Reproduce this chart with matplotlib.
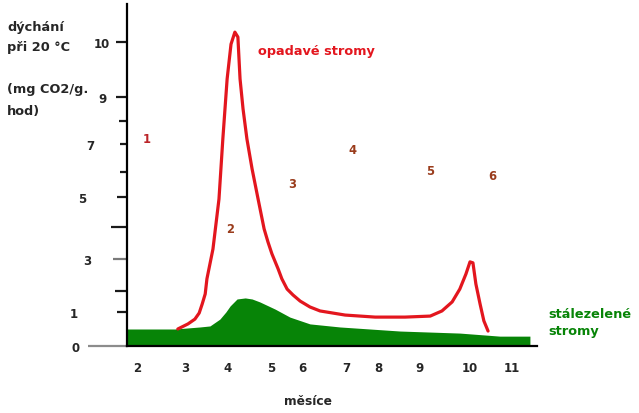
import numpy as np
import matplotlib
matplotlib.use("Agg")
import matplotlib.pyplot as plt

plt.rcParams["font.family"] = ["DejaVu Sans"]

# --- data: respiration at 20 °C (mg CO2 / g / h) through the year ---
months = [2, 3, 4, 5, 6, 7, 8, 9, 10, 11]
month_labels = ["2", "3", "4", "5", "6", "7", "8", "9", "10", "11"]

resp_ticks = [0, 1, 2, 3, 4, 5, 6, 7, 8, 9, 10]
resp_labels = ["0", "1", "", "3", "", "5", "", "7", "", "9", "10"]

deciduous_month = [2.85, 3.07, 3.23, 3.33, 3.40, 3.47, 3.51, 3.65, 3.79, 3.88,
                   3.98, 4.07, 4.16, 4.23, 4.28, 4.35, 4.44, 4.56, 4.63, 4.70,
                   4.84, 4.93, 5.03, 5.23, 5.35, 5.52, 5.71, 5.94, 6.18, 6.41,
                   6.98, 7.91, 8.66, 9.22, 9.45, 9.65, 9.80, 9.92, 10.0, 10.07,
                   10.14, 10.24, 10.33, 10.43]
deciduous_resp = [0.50, 0.65, 0.79, 0.97, 1.38, 1.86, 2.38, 3.31, 4.93, 7.22,
                  9.33, 9.96, 10.26, 10.13, 9.33, 8.50, 7.22, 6.11, 5.52, 4.93,
                  3.94, 3.53, 3.16, 2.69, 2.38, 2.06, 1.81, 1.52, 1.24, 1.05,
                  0.91, 0.85, 0.85, 0.88, 1.05, 1.48, 2.06, 2.53, 2.91, 2.88,
                  2.22, 1.38, 0.74, 0.44]

evergreen_month = [1.8, 2.79, 3.35, 3.58, 3.81, 3.95, 4.05, 4.21, 4.40, 4.56,
                   4.74, 5.13, 5.61, 6.18, 6.86, 8.54, 9.80, 10.71, 11.43]
evergreen_resp = [0.50, 0.50, 0.56, 0.59, 0.79, 1.00, 1.29, 1.62, 1.67, 1.62,
                  1.48, 1.14, 0.85, 0.65, 0.56, 0.44, 0.38, 0.29, 0.29]

stage_labels = ["1", "2", "3", "4", "5", "6"]
stage_month = [2.21, 4.05, 5.68, 7.19, 9.22, 10.52]
stage_resp = [7.26, 3.94, 5.52, 6.79, 6.04, 5.84]

# --- hand-drawn (uneven) axis scales: value -> position along the axis ---
x_nodes = [1.8, 2, 3, 4, 5, 6, 7, 8, 9, 10, 11, 11.6]
x_pos = [0, 10, 58, 101, 144, 175, 219, 251, 292, 343, 385, 410]
y_nodes = [0, 1, 2, 3, 4, 5, 6, 7, 8, 9, 10, 11]
y_pos = [0, 34, 55, 87, 119, 149, 174, 202, 225, 249, 304, 342]


def fwd_x(v):
    return np.interp(v, x_nodes, x_pos)


def inv_x(p):
    return np.interp(p, x_pos, x_nodes)


def fwd_y(v):
    return np.interp(v, y_nodes, y_pos)


def inv_y(p):
    return np.interp(p, y_pos, y_nodes)


W, H = 639, 414
fig = plt.figure(figsize=(W / 100, H / 100), dpi=100)
ax = fig.add_axes([127 / W, (H - 347) / H, 410 / W, 342 / H])
ax.set_xscale("function", functions=(fwd_x, inv_x))
ax.set_yscale("function", functions=(fwd_y, inv_y))
ax.set_xlim(1.8, 11.6)
ax.set_ylim(0, 11)

RED = "#e3161e"
GREEN = "#078407"
DARK = "#262626"

ax.fill_between(evergreen_month, 0, evergreen_resp, color=GREEN, lw=0, zorder=2)
ax.plot(deciduous_month, deciduous_resp, color=RED, lw=2.3,
        solid_joinstyle="round", solid_capstyle="round", zorder=3)

for s in ("top", "right"):
    ax.spines[s].set_visible(False)
for s in ("left", "bottom"):
    ax.spines[s].set_linewidth(1.6)
    ax.spines[s].set_color("black")
    ax.spines[s].set_zorder(4)

# x axis: labels only
ax.set_xticks(months)
ax.set_xticklabels(month_labels)
ax.tick_params(axis="x", length=0, pad=11, labelsize=8.5, labelcolor=DARK)
for lab in ax.get_xticklabels():
    lab.set_fontweight("bold")

# y axis: uneven hand-drawn ticks
ax.set_yticks(resp_ticks)
ax.set_yticklabels(resp_labels)
ax.tick_params(axis="y", length=0, width=1.5, labelsize=8.5, labelcolor=DARK)
tick_len_px = [39, 10, 12, 14, 16, 10, 7, 7, 8, 11, 11]
tick_col = ["#8c8c8c", "#1a1a1a", "#1a1a1a", "#7a7a7a", "#1a1a1a", "#1a1a1a",
            "#1a1a1a", "#1a1a1a", "#1a1a1a", "#1a1a1a", "#1a1a1a"]
label_gap_px = [47, 49, 1, 36, 1, 41, 1, 33, 1, 20, 17]
PX = 72 / 100
for tick, L, c, g in zip(ax.yaxis.get_major_ticks(), tick_len_px, tick_col, label_gap_px):
    tick.set_pad(g * PX)
    tick.tick1line.set_markersize(L * PX)
    tick.tick1line.set_markeredgewidth(1.6)
    tick.tick1line.set_color(c)
    tick.tick1line.set_markeredgecolor(c)
    tick.label1.set_fontweight("bold")

# stage numbers
for s, m, r in zip(stage_labels, stage_month, stage_resp):
    col = "#bb2428" if s == "1" else "#9a3c1c"
    ax.text(m, r, s, color=col, fontsize=8.3, fontweight="bold",
            ha="center", va="center", zorder=5)

# series names
fig.text(258 / W, 1 - 51 / H, "opadavé stromy", color=RED, fontsize=9.3,
         fontweight="bold", ha="left", va="center")
fig.text(548 / W, 1 - 314 / H, "stálezelené", color=GREEN, fontsize=9.3,
         fontweight="bold", ha="left", va="center")
fig.text(548 / W, 1 - 332 / H, "stromy", color=GREEN, fontsize=9.3,
         fontweight="bold", ha="left", va="center")

# axis titles
for txt, y in [("dýchání", 27), ("při 20 °C", 47), ("(mg CO2/g.", 89), ("hod)", 112)]:
    fig.text(7 / W, 1 - y / H, txt, color=DARK, fontsize=9.3, fontweight="bold",
             ha="left", va="center")
fig.text(308 / W, 1 - 402 / H, "měsíce", color=DARK, fontsize=8.8,
         fontweight="bold", ha="center", va="center")

fig.savefig("out.png", dpi=100)
